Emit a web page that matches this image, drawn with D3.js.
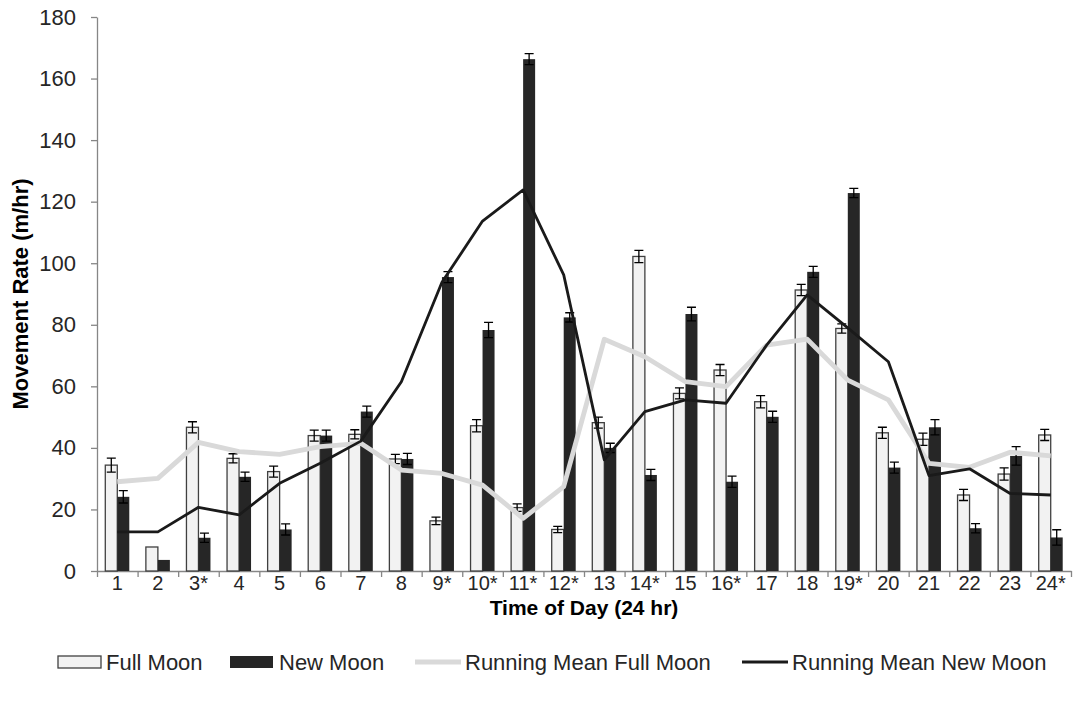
<!DOCTYPE html>
<html>
<head>
<meta charset="utf-8">
<script src="https://cdn.jsdelivr.net/npm/d3@7"></script>
<style>
  body { margin: 0; background: #fff; }
  svg { display: block; font-family: "Liberation Sans", Arial, sans-serif; }
  .axis .domain, .axis line { stroke: #868686; stroke-width: 1.3; }
  .axis text { fill: #262626; font-size: 22px; }
  .axis.xlab text { font-size: 20px; }
</style>
</head>
<body>
<svg id="chart" width="1076" height="704"></svg>
<script>
// hours, asterisk = significant difference
const hours = ["1","2","3*","4","5","6","7","8","9*","10*","11*","12*","13","14*","15","16*","17","18","19*","20","21","22","23","24*"];
const fullMoon = [34.4, 7.8, 46.7, 36.6, 32.3, 44.0, 44.4, 36.4, 16.3, 47.2, 20.6, 13.5, 48.2, 102.2, 57.7, 65.3, 55.0, 91.3, 78.8, 44.9, 42.8, 24.7, 31.5, 44.2];
const newMoon = [24.1, 3.6, 10.8, 30.6, 13.5, 44.0, 51.8, 36.4, 95.5, 78.3, 166.3, 82.4, 40.0, 31.2, 83.5, 29.0, 50.1, 97.2, 122.8, 33.6, 46.7, 13.9, 37.4, 10.9];
const fullMoonErr = [2.3, 0, 1.8, 1.5, 1.8, 1.8, 1.5, 1.5, 1.2, 2.0, 1.2, 1.0, 1.8, 2.0, 1.8, 1.8, 2.0, 1.8, 1.5, 1.8, 2.0, 1.8, 2.0, 1.8];
const newMoonErr = [2.0, 0, 1.5, 1.5, 1.8, 1.8, 1.8, 1.8, 1.8, 2.5, 1.8, 1.5, 1.5, 1.8, 2.2, 1.8, 1.8, 1.8, 1.5, 1.8, 2.5, 1.5, 3.0, 2.5];
const rmFull = [29.0, 30.1, 41.8, 38.8, 37.9, 40.4, 41.5, 32.8, 31.7, 27.9, 17.1, 27.4, 75.3, 69.6, 61.5, 59.9, 73.4, 75.3, 62.0, 55.6, 35.0, 33.7, 38.6, 37.4];
const rmNew = [12.7, 12.7, 20.7, 18.2, 28.5, 35.0, 42.2, 61.5, 93.8, 113.7, 123.8, 96.2, 36.1, 51.8, 55.6, 54.5, 73.4, 89.7, 79.0, 68.0, 31.0, 33.2, 25.2, 24.7];
const yTicks = [0, 20, 40, 60, 80, 100, 120, 140, 160, 180];

const svg = d3.select("#chart");
const pLeft = 97, pRight = 1071, pTop = 17, pBottom = 571;
const barW = 12;

const x = d3.scaleBand().domain(hours).range([pLeft, pRight]);
const xb = d3.scaleLinear().domain([0, hours.length]).range([pLeft, pRight]);
const y = d3.scaleLinear().domain([0, 180]).range([pBottom, pTop]);

// y axis
svg.append("g").attr("class", "axis")
   .attr("transform", "translate(" + pLeft + ",0)")
   .call(d3.axisLeft(y).tickValues(yTicks).tickSize(6).tickPadding(15).tickSizeOuter(0));

// x axis: boundary ticks + labels
svg.append("g").attr("class", "axis")
   .attr("transform", "translate(0," + pBottom + ")")
   .call(d3.axisBottom(xb).tickValues(d3.range(hours.length + 1)).tickFormat("").tickSize(6).tickSizeOuter(0));
svg.append("g").attr("class", "axis xlab")
   .attr("transform", "translate(0," + pBottom + ")")
   .call(d3.axisBottom(x).tickSize(0).tickPadding(5))
   .call(g => g.select(".domain").remove());

const cx = d => x(d) + x.bandwidth() / 2;

// bars
svg.append("g").selectAll("rect").data(hours).join("rect")
   .attr("x", d => cx(d) - barW)
   .attr("y", (d, i) => y(fullMoon[i]))
   .attr("width", barW)
   .attr("height", (d, i) => pBottom - y(fullMoon[i]))
   .attr("fill", "#f2f2f2").attr("stroke", "#404040").attr("stroke-width", 1.3);
svg.append("g").selectAll("rect").data(hours).join("rect")
   .attr("x", d => cx(d))
   .attr("y", (d, i) => y(newMoon[i]))
   .attr("width", barW)
   .attr("height", (d, i) => pBottom - y(newMoon[i]))
   .attr("fill", "#262626");

// error bars
function errBars(vals, errs, off) {
  const g = svg.append("g").attr("stroke", "#000").attr("stroke-width", 1.3).attr("fill", "none");
  hours.forEach((h, i) => {
    if (!errs[i]) return;
    const xc = cx(h) + off;
    const y1 = y(vals[i] + errs[i]), y0 = y(vals[i] - errs[i]);
    g.append("path").attr("d",
      "M" + xc + "," + y0 + "V" + y1 +
      "M" + (xc - 4.5) + "," + y1 + "H" + (xc + 4.5) +
      "M" + (xc - 4.5) + "," + y0 + "H" + (xc + 4.5));
  });
}
errBars(fullMoon, fullMoonErr, -barW / 2);
errBars(newMoon, newMoonErr, barW / 2);

// running means
const line = d3.line().x((d, i) => cx(hours[i])).y(d => y(d));
svg.append("path").datum(rmFull).attr("d", line)
   .attr("fill", "none").attr("stroke", "#d9d9d9").attr("stroke-width", 4.8).attr("stroke-linejoin", "round");
svg.append("path").datum(rmNew).attr("d", line)
   .attr("fill", "none").attr("stroke", "#1a1a1a").attr("stroke-width", 2.8).attr("stroke-linejoin", "round");

// axis titles
svg.append("text")
   .attr("transform", "translate(28," + ((pTop + pBottom) / 2) + ") rotate(-90)")
   .attr("text-anchor", "middle")
   .style("font-size", "22px").style("font-weight", "bold").attr("fill", "#000")
   .text("Movement Rate (m/hr)");
svg.append("text")
   .attr("x", (pLeft + pRight) / 2).attr("y", 615)
   .attr("text-anchor", "middle")
   .style("font-size", "21px").style("font-weight", "bold").attr("fill", "#000")
   .text("Time of Day (24 hr)");

// legend
const ly = 662;
const leg = svg.append("g").style("font-size", "22px").attr("fill", "#262626");
leg.append("rect").attr("x", 58).attr("y", ly - 6).attr("width", 43).attr("height", 12)
   .attr("fill", "#f2f2f2").attr("stroke", "#404040").attr("stroke-width", 1.3);
leg.append("text").attr("x", 106).attr("y", ly + 8).text("Full Moon");
leg.append("rect").attr("x", 230).attr("y", ly - 6).attr("width", 43).attr("height", 12).attr("fill", "#262626");
leg.append("text").attr("x", 279).attr("y", ly + 8).text("New Moon");
leg.append("line").attr("x1", 415).attr("x2", 461).attr("y1", ly).attr("y2", ly)
   .attr("stroke", "#d9d9d9").attr("stroke-width", 4.8);
leg.append("text").attr("x", 465).attr("y", ly + 8).text("Running Mean Full Moon");
leg.append("line").attr("x1", 742).attr("x2", 788).attr("y1", ly).attr("y2", ly)
   .attr("stroke", "#1a1a1a").attr("stroke-width", 2.8);
leg.append("text").attr("x", 792).attr("y", ly + 8).text("Running Mean New Moon");
</script>
</body>
</html>
